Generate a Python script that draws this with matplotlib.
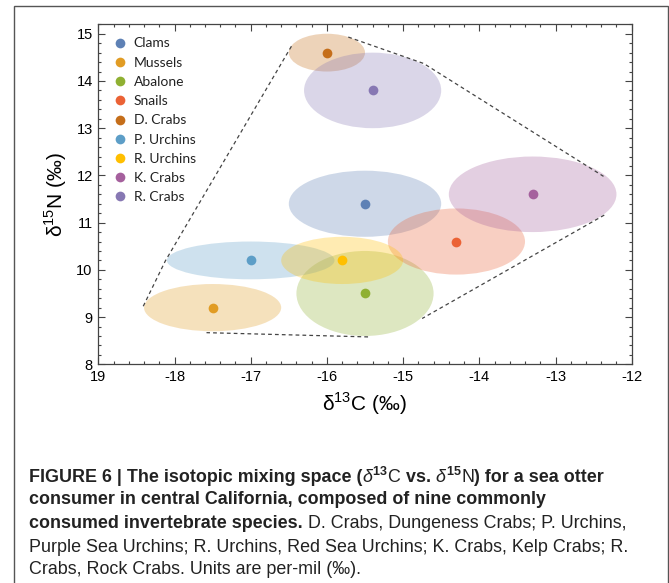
import numpy as np
import matplotlib
matplotlib.use("Agg")
import matplotlib.pyplot as plt
from matplotlib.patches import Ellipse, Rectangle
from matplotlib.lines import Line2D

# isotope means and ellipse extents (per-mil)
species = ['Clams', 'Mussels', 'Abalone', 'Snails', 'D. Crabs',
           'P. Urchins', 'R. Urchins', 'K. Crabs', 'R. Crabs']
d13c = [-15.5, -17.5, -15.5, -14.3, -16.0, -17.0, -15.8, -13.3, -15.4]
d15n = [11.4, 9.2, 9.5, 10.6, 14.6, 10.2, 10.2, 11.6, 13.8]
width_c = [2.0, 1.8, 1.8, 1.8, 1.0, 2.2, 1.6, 2.2, 1.8]
height_n = [1.4, 1.0, 1.8, 1.4, 0.8, 0.8, 1.0, 1.6, 1.6]
colors = ['#5E81B5', '#E19C24', '#8FB032', '#EB6235', '#C56E1A',
          '#5D9EC7', '#FFBF00', '#A5609D', '#8778B3']

# mixing polygon, drawn in visible pieces
hull_left = ([-18.41, -18.12, -16.46], [9.23, 10.19, 14.75])
hull_top = ([-15.72, -14.73, -12.37], [14.93, 14.37, 11.98])
hull_right = ([-12.36, -14.75], [11.16, 8.97])
hull_bottom = ([-15.46, -17.58], [8.58, 8.67])

xticks = [-19, -18, -17, -16, -15, -14, -13, -12]
xticklabels = ['19', '-18', '-17', '-16', '-15', '-14', '-13', '-12']
yticks = [8, 9, 10, 11, 12, 13, 14, 15]

fig = plt.figure(figsize=(6.69, 5.83), dpi=100)
ax = fig.add_axes([98.3/669, 1-364.3/583, (631.7-98.3)/669, (364.3-24.3)/583])

for i in range(len(species)):
    e = Ellipse((d13c[i], d15n[i]), width_c[i], height_n[i],
                facecolor=colors[i], alpha=0.3, edgecolor='none', zorder=1)
    ax.add_patch(e)

for seg in [hull_left, hull_top, hull_right, hull_bottom]:
    ax.plot(seg[0], seg[1], ls=(0, (3, 2.5)), color='#444444', lw=0.9, zorder=2)

for i in range(len(species)):
    ax.plot(d13c[i], d15n[i], 'o', color=colors[i], ms=7, mec='none', zorder=3)

ax.set_xlim(-19, -12)
ax.set_ylim(8, 15.19)
ax.set_xticks(xticks)
ax.set_xticklabels(xticklabels)
ax.set_yticks(yticks)
ax.set_xticks(np.arange(-19, -11.9, 0.2), minor=True)
ax.set_yticks(np.arange(8, 15.3, 0.2), minor=True)
ax.tick_params(which='both', direction='in', top=True, right=True,
               color='#444444', width=0.8)
ax.tick_params(which='major', length=5, labelsize=10.5, pad=4)
ax.tick_params(which='minor', length=2.5)
for lab in ax.get_xticklabels() + ax.get_yticklabels():
    lab.set_family('Liberation Sans')
for sp in ax.spines.values():
    sp.set_color('#444444')
    sp.set_linewidth(0.9)

ax.set_xlabel(r'δ$^{\mathregular{13}}$C (‰)', family='Liberation Sans', fontsize=15, labelpad=5)
ax.set_ylabel(r'δ$^{\mathregular{15}}$N (‰)', family='Liberation Sans', fontsize=15, labelpad=5)

handles = [Line2D([], [], marker='o', ls='none', color=c, ms=7, mec='none') for c in colors]
leg = ax.legend(handles, species, loc='upper left', frameon=False,
                bbox_to_anchor=(0.0, 1.0), borderaxespad=0.55,
                handletextpad=0.4, labelspacing=0.52, handlelength=1.2,
                prop={'family': 'Lato', 'size': 10})
for t in leg.get_texts():
    t.set_color('#222222')

# outer frame
fig.add_artist(Rectangle((14/669, -0.1), (667.5-14)/669, 1.1-6/583,
                         transform=fig.transFigure, fill=False,
                         edgecolor='#555555', lw=1.0, clip_on=False))

# caption
renderer = fig.canvas.get_renderer()
cap_font = ['Liberation Sans', 'DejaVu Sans']

def caption_line(x_px, y_px, parts):
    x = x_px / 669
    for s, w, st in parts:
        t = fig.text(x, 1 - y_px/583, s, fontsize=12.9, fontweight=w, style=st,
                     family=cap_font, color='#222222', va='center')
        bb = t.get_window_extent(renderer)
        x += bb.width / fig.bbox.width

caption_line(29, 477, [('FIGURE 6 | The isotopic mixing space (', 'bold', 'normal'),
                       ('δ', 'normal', 'italic'),
                       (r'$^{\mathregular{13}}$', 'bold', 'normal'),
                       ('C ', 'normal', 'normal'),
                       ('vs. ', 'bold', 'normal'),
                       ('δ', 'normal', 'italic'),
                       (r'$^{\mathregular{15}}$', 'bold', 'normal'),
                       ('N', 'normal', 'normal'),
                       (') for a sea otter', 'bold', 'normal')])
caption_line(29, 500, [('consumer in central California, composed of nine commonly', 'bold', 'normal')])
caption_line(29, 524, [('consumed invertebrate species. ', 'bold', 'normal'),
                       ('D. Crabs, Dungeness Crabs; P. Urchins,', 'normal', 'normal')])
caption_line(29, 547, [('Purple Sea Urchins; R. Urchins, Red Sea Urchins; K. Crabs, Kelp Crabs; R.', 'normal', 'normal')])
caption_line(29, 570, [('Crabs, Rock Crabs. Units are per-mil (‰).', 'normal', 'normal')])

fig.savefig('out.png', dpi=100)
